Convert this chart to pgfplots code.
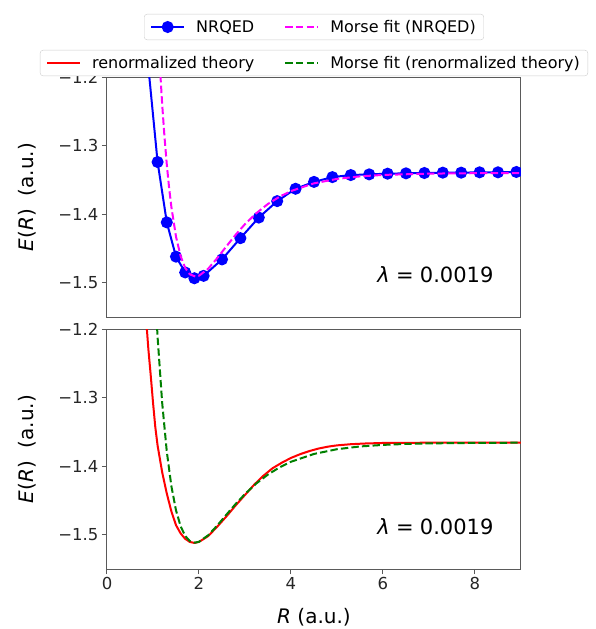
\documentclass[border=0pt]{standalone}
\usepackage{fontspec}
\setmainfont{DejaVu Sans}
\usepackage{pgfplots}
\pgfplotsset{compat=1.18}
\definecolor{mplgreen}{RGB}{0,128,0}
\definecolor{mplmagenta}{RGB}{255,0,255}
\definecolor{mplblue}{RGB}{0,0,255}
\definecolor{mplred}{RGB}{255,0,0}
\definecolor{spine}{RGB}{90,90,90}

\pgfplotsset{
  myaxis/.style={
    scale only axis, width=414pt, height=240pt,
    xmin=0, xmax=9, ymin=-1.55, ymax=-1.2,
    ytick={-1.5,-1.4,-1.3,-1.2},
    yticklabels={−1.5,−1.4,−1.3,−1.2},
    tick align=outside, tick pos=left,
    major tick length=5pt,
    axis line style={spine, line width=1pt},
    every tick/.style={spine, line width=1pt},
    tick label style={font=\fontsize{16.5}{19}\selectfont, text=black!85},
    /pgf/number format/assume math mode=true,
    every axis y label/.style={at={(axis description cs:-0.192,0.5)}, rotate=90, anchor=center, font=\fontsize{20}{24}\selectfont},
    every axis x label/.style={at={(axis description cs:0.5,-0.2)}, anchor=center, font=\fontsize{20}{24}\selectfont},
    ylabel={\textit{E}(\textit{R})\ \ (a.u.)},
    clip marker paths=true,
    legend cell align=left,
    legend style={draw=black!20, rounded corners=3pt, legend columns=2, font=\fontsize{16}{19}\selectfont, anchor=south,
      inner xsep=6pt, inner ysep=4pt,
      /tikz/every odd column/.append style={column sep=9pt},
      /tikz/every even column/.append style={column sep=28pt}},
    legend image code/.code={\draw[mark repeat=2,mark phase=2,#1] plot coordinates {(0pt,0pt) (16.5pt,0pt) (33pt,0pt)};},
  },
}

\begin{document}
\begin{tikzpicture}
\begin{axis}[myaxis, at={(0pt,0pt)}, anchor=south west, xtick=\empty,
  legend style={at={(0.5,1.154)}}]
\addplot[mplblue, line width=2pt, mark=*, mark size=5pt, mark options={solid, fill=mplblue, draw=mplblue}] coordinates {
(0.9,-1.186) (1.1,-1.324) (1.3,-1.412) (1.5,-1.462) (1.7,-1.485) (1.9,-1.4935)
(2.1,-1.490) (2.5,-1.466) (2.9,-1.435) (3.3,-1.405) (3.7,-1.381) (4.1,-1.363)
(4.5,-1.353) (4.9,-1.346) (5.3,-1.343) (5.7,-1.342) (6.1,-1.341) (6.5,-1.3405)
(6.9,-1.340) (7.3,-1.3395) (7.7,-1.3395) (8.1,-1.339) (8.5,-1.339) (8.9,-1.3385) (9.3,-1.3385)
};
\addlegendentry{NRQED}
\addplot[mplmagenta, line width=2pt, dash pattern=on 7.4pt off 3.2pt] coordinates {
(1.1,-1.120) (1.15,-1.1847) (1.2,-1.2402) (1.25,-1.2875) (1.3,-1.3276) (1.35,-1.3615)
(1.4,-1.3898) (1.5,-1.4328) (1.6,-1.4611) (1.7,-1.4785) (1.8,-1.4877) (1.92,-1.491)
(2.0,-1.4898) (2.2,-1.4796) (2.4,-1.4638) (2.6,-1.4466) (2.8,-1.4298) (3.0,-1.4146)
(3.25,-1.3984) (3.5,-1.3851) (3.75,-1.3746) (4.0,-1.3663) (4.5,-1.3551) (5.0,-1.3486)
(5.5,-1.3449) (6.0,-1.3428) (7.0,-1.3409) (8.0,-1.3403) (9.0,-1.3401)
};
\addlegendentry{Morse fit (NRQED)}
\node[anchor=base east, font=\fontsize{21}{25}\selectfont] at (rel axis cs:0.942,0.142) {\textit{λ}\hspace{0.3em}=\hspace{0.3em}0.0019};
\end{axis}

\begin{axis}[myaxis, at={(0pt,-252pt)}, anchor=south west, xtick={0,2,4,6,8},
  xlabel={\textit{R} (a.u.)},
  legend style={at={(0.5,2.054)}}]
\addplot[mplred, line width=2pt] coordinates {
(0.85,-1.185) (0.9,-1.230) (0.95,-1.267) (1.0,-1.307) (1.05,-1.343) (1.1,-1.370)
(1.2,-1.409) (1.3,-1.440) (1.4,-1.466) (1.5,-1.486) (1.6,-1.498) (1.7,-1.506)
(1.8,-1.5105) (1.9,-1.512) (2.0,-1.5105) (2.2,-1.502) (2.4,-1.488) (2.6,-1.473)
(2.8,-1.457) (3.0,-1.442) (3.2,-1.427) (3.4,-1.414) (3.6,-1.403) (3.8,-1.395)
(4.0,-1.388) (4.2,-1.3825) (4.4,-1.378) (4.6,-1.3743) (4.8,-1.3716) (5.0,-1.3697)
(5.3,-1.368) (5.6,-1.3670) (6.0,-1.3662) (7.0,-1.3658) (8.0,-1.3657) (9.0,-1.3657)
};
\addlegendentry{renormalized theory}
\addplot[mplgreen, line width=2pt, dash pattern=on 7.4pt off 3.2pt] coordinates {
(1.05,-1.151) (1.1,-1.212) (1.2,-1.308) (1.3,-1.3788) (1.4,-1.4294) (1.5,-1.4644)
(1.6,-1.4876) (1.7,-1.5018) (1.8,-1.5092) (1.91,-1.5116) (2.0,-1.5103) (2.2,-1.5008)
(2.4,-1.4863) (2.6,-1.4704) (2.8,-1.4549) (3.0,-1.4406) (3.25,-1.4250) (3.5,-1.4122)
(3.75,-1.4018) (4.0,-1.3936) (4.5,-1.3822) (5.0,-1.3753) (5.5,-1.3713) (6.0,-1.3690)
(6.5,-1.3676) (7.0,-1.3668) (8.0,-1.3661) (9.0,-1.3658)
};
\addlegendentry{Morse fit (renormalized theory)}
\node[anchor=base east, font=\fontsize{21}{25}\selectfont] at (rel axis cs:0.942,0.142) {\textit{λ}\hspace{0.3em}=\hspace{0.3em}0.0019};
\end{axis}
\pgfresetboundingbox
\useasboundingbox (-107pt,-312pt) rectangle (489pt,317pt);
\end{tikzpicture}
\end{document}
